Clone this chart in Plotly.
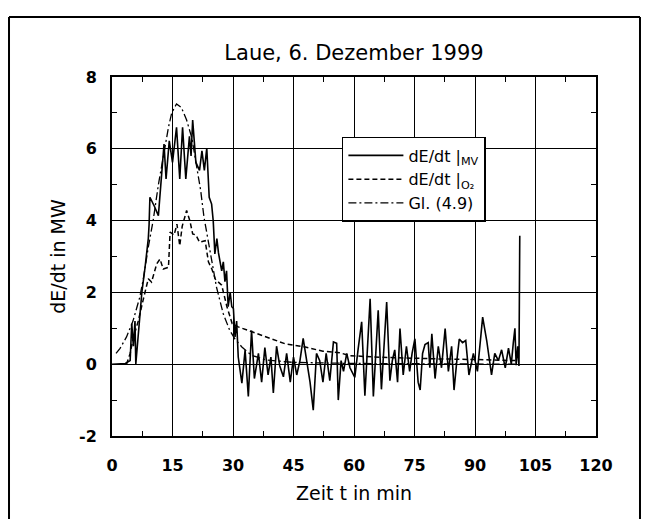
import plotly.graph_objects as go

# --- data ---
t_mv = [0, 1, 2, 3, 3.3, 4.5, 4.9, 5.3, 5.7, 5.9, 7.4, 8.2, 9.0, 9.2, 9.4, 10.5, 11.5, 12.9, 13.4, 14.2,
        15.0, 16.0, 16.8, 17.5, 18.3, 19.2, 19.6, 20.0, 20.8, 21.7, 22.3, 22.9, 23.5, 24.1, 24.7, 25.1,
        25.5, 26.0, 26.4, 27.2, 27.6, 28.0, 28.4, 28.8, 29.3, 29.7, 30.1, 30.5, 30.9, 31.3, 32.2, 33.0,
        33.8, 34.6, 35.3, 36.3, 37.1, 37.9, 38.7, 39.4, 40.0, 40.8, 41.6, 42.5, 43.3, 44.2, 45.0, 45.8,
        46.6, 47.4, 48.3, 49.1, 49.9, 50.7, 51.5, 52.3, 53.1, 54.0, 54.9, 55.7, 56.1, 56.8, 57.4, 58.2,
        59.0, 60.2, 61.0, 61.9, 62.7, 63.3, 64.0, 64.8, 65.4, 66.0, 66.8, 67.4, 68.1, 68.9, 69.5, 70.1,
        70.8, 71.4, 72.2, 73.0, 73.8, 74.4, 75.1, 75.9, 76.4, 77.0, 77.6, 78.4, 78.8, 79.3, 80.1, 80.9,
        81.7, 82.6, 83.4, 84.2, 84.8, 85.5, 86.1, 86.9, 87.7, 88.5, 89.6, 90.6, 91.9, 92.9, 94.1, 94.9,
        95.8, 96.6, 97.5, 98.3, 99.0, 99.5, 99.9, 100.2, 100.6, 100.9, 101.1]
v_mv = [0, 0, 0, 0, 0.02, 0.1, 1.13, 0.5, 1.2, 0.0, 2.0, 2.7, 3.5, 3.9, 4.65, 4.4, 4.14, 6.13, 5.16, 6.22,
        5.62, 6.6, 5.16, 6.6, 5.16, 6.35, 5.8, 6.8, 5.62, 5.4, 5.94, 5.4, 6.02, 4.65, 4.46, 3.99,
        3.07, 3.5, 3.1, 2.6, 2.85, 2.3, 2.6, 1.6, 2.0, 1.6, 1.55, 0.76, 1.2, 0.2, -0.53, 0.39,
        -0.9, 0.94, -0.4, 0.3, -0.5, 0.46, -0.3, 0.2, -0.8, 0.5, -0.05, -0.35, 0.3, -0.5, 0.2, -0.3,
        0.1, 0.72, 0.1, -0.5, -1.28, 0.3, 0.1, -0.5, 0.3, -0.46, 0.62, 0.58, -1.0, 0.1, -0.2, 0.3,
        -0.1, -0.37, 0.4, 1.18, -0.88, 0.3, 1.82, -0.9, 0.2, 1.5, -0.7, 0.3, 1.73, -0.46, 0.1, 0.4,
        -0.5, 0.99, -0.3, 0.5, -0.2, 0.3, 0.71, -0.5, -0.72, 0.3, 0.55, 0.6, -0.1, 0.85, -0.4, 0.5,
        -0.1, 0.99, -0.2, 0.5, -0.72, 0.1, 0.7, 0.6, 0.66, -0.3, 0.3, -0.2, 1.31, 0.66, -0.3, 0.3,
        0.1, 0.4, -0.1, 0.45, 0.0, 0.6, 1.0, -0.03, 0.5, -0.05, 3.58]

t_o2 = [3.6, 4.5, 5.2, 6.5, 7.7, 9.0, 9.8, 11.1, 11.9, 12.7, 14.0, 14.4, 15.4, 16.1, 16.8, 17.4, 18.5,
        19.3, 20.0, 20.8, 21.7, 23.1, 23.9, 24.8, 25.6, 27.2, 28.5, 29.8, 31.3, 33.8, 37.9, 40.4, 42.9,
        47.9, 52.3, 56.4, 58.9, 65, 70, 80, 90, 100]
v_o2 = [0.0, 0.3, 0.7, 1.2, 1.78, 2.38, 2.29, 2.8, 2.93, 2.65, 2.7, 3.68, 3.6, 3.9, 3.3, 3.84, 4.28,
        4.0, 3.63, 3.6, 3.4, 3.44, 2.85, 2.64, 2.37, 2.2, 1.6, 1.13, 1.04, 0.94, 0.76, 0.66, 0.57,
        0.48, 0.36, 0.32, 0.24, 0.2, 0.18, 0.15, 0.13, 0.1]

t_gl = [1.0, 2.0, 3.6, 5.2, 6.9, 7.8, 9.0, 10.2, 11.5, 12.8, 14.0, 14.8, 16.0, 17.2, 18.5, 19.8, 21.1,
        22.0, 22.8, 24.3, 25.9, 27.6, 29.2, 30.5, 32.2, 34.6, 38, 45, 60, 100]
v_gl = [0.3, 0.44, 0.76, 1.2, 1.87, 2.4, 3.26, 4.0, 5.0, 5.9, 6.6, 7.0, 7.25, 7.15, 6.8, 6.3, 5.5,
        4.83, 4.1, 3.17, 2.15, 1.4, 0.94, 0.7, 0.48, 0.25, 0.12, 0.05, 0.02, 0.0]

names = ["dE/dt |<sub>MV</sub>", "dE/dt |<sub>O₂</sub>", "Gl. (4.9)"]
x_ticks = [0, 15, 30, 45, 60, 75, 90, 105, 120]
y_ticks = [-2, 0, 2, 4, 6, 8]

FONT = "DejaVu Sans"

fig = go.Figure()
fig.add_trace(go.Scatter(x=t_mv, y=v_mv, mode="lines", name=names[0],
                         line=dict(color="black", width=1.6)))
fig.add_trace(go.Scatter(x=t_o2, y=v_o2, mode="lines", name=names[1],
                         line=dict(color="black", width=1.5, dash="5px,3px")))
fig.add_trace(go.Scatter(x=t_gl, y=v_gl, mode="lines", name=names[2],
                         line=dict(color="black", width=1.3, dash="8px,3px,2px,3px")))

axis_common = dict(showgrid=True, gridcolor="black", gridwidth=1.4, showline=True,
                   linecolor="black", linewidth=2, mirror="allticks", ticks="inside",
                   ticklen=5, tickcolor="black", zeroline=False,
                   tickfont=dict(family=FONT, size=16, color="black", weight="bold"))

fig.update_xaxes(range=[0, 120], tickvals=x_ticks, ticktext=[str(v) for v in x_ticks],
                 minor=dict(dtick=7.5, tick0=0, ticks="inside", ticklen=5, tickcolor="black"),
                 title=dict(text="Zeit t in min", font=dict(family=FONT, size=19, color="black"), standoff=12),
                 ticklabelstandoff=14,
                 **axis_common)
fig.update_yaxes(range=[-2, 8], tickvals=y_ticks, ticktext=[str(v) for v in y_ticks],
                 minor=dict(dtick=1, tick0=0, ticks="inside", ticklen=5, tickcolor="black"),
                 title=dict(text="dE/dt in MW", font=dict(family=FONT, size=19, color="black"), standoff=8),
                 ticklabelstandoff=10,
                 **axis_common)

# outer frame (left, top, right edges)
frame = dict(type="line", xref="paper", yref="paper", line=dict(color="black", width=2))
fig.add_shape(x0=-0.2128, x1=-0.2128, y0=1.167, y1=-0.3, **frame)
fig.add_shape(x0=-0.2128, x1=1.0909, y0=1.167, y1=1.167, **frame)
fig.add_shape(x0=1.0909, x1=1.0909, y0=1.167, y1=-0.3, **frame)

fig.update_layout(
    width=649, height=519,
    margin=dict(l=112, r=53, t=77, b=83),
    paper_bgcolor="white", plot_bgcolor="white",
    font=dict(family=FONT, color="black"),
    title=dict(text="Laue, 6. Dezember 1999", x=0.5, xref="paper", y=1 - 53 / 519, yanchor="middle",
               font=dict(family=FONT, size=21, color="black")),
    legend=dict(x=0.475, y=0.833, xanchor="left", yanchor="top", bgcolor="white",
                bordercolor="black", borderwidth=1.5, font=dict(family=FONT, size=16, color="black"),
                tracegroupgap=0, itemwidth=55),
    showlegend=True,
)

fig.write_html("out.html")
